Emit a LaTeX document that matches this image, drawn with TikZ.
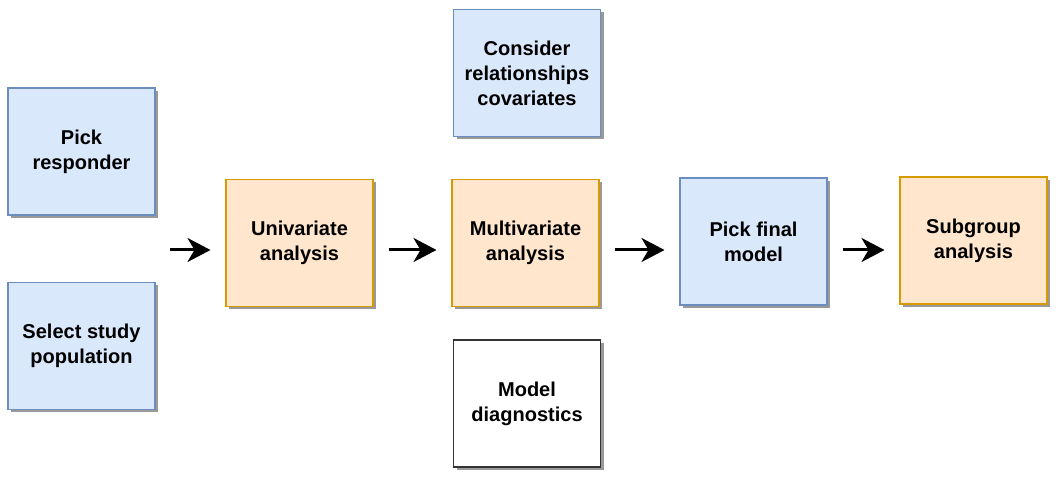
\documentclass[tikz,border=0pt]{standalone}
\usepackage{fontspec}
\setmainfont{Liberation Sans}
\usetikzlibrary{arrows.meta,shadows}
\definecolor{bfill}{HTML}{DAE8FC}
\definecolor{bline}{HTML}{6C8EBF}
\definecolor{ofill}{HTML}{FFE6CC}
\definecolor{oline}{HTML}{D79B00}

\begin{document}
\begin{tikzpicture}[
    box/.style={draw, line width=0.6pt, minimum width=2.94cm,
        minimum height=2.54cm, align=center,
        font=\fontsize{11.4}{14.2}\selectfont\bfseries,
        drop shadow={shadow xshift=0.06cm, shadow yshift=-0.06cm,
            fill=black!40, opacity=1}},
    B/.style={box, fill=bfill, draw=bline},
    O/.style={box, fill=ofill, draw=oline},
    W/.style={box, fill=white, draw=black!80},
    A/.style={-{Stealth[length=0.46cm, width=0.48cm, inset=0.14cm]},
        line width=0.06cm, shorten <=0.3cm, shorten >=0.3cm}]
    \useasboundingbox (0,0) rectangle (21.2,9.56);
    \node[B] (resp) at (1.63,6.53) {Pick\\responder};
    \node[B] (pop) at (1.63,2.64) {Select study\\population};
    \node[O] (uni) at (5.99,4.70) {Univariate\\analysis};
    \node[O] (multi) at (10.51,4.70) {Multivariate\\analysis};
    \node[B] (cons) at (10.54,8.10) {Consider\\relationships\\covariates};
    \node[W] (diag) at (10.54,1.49) {Model\\diagnostics};
    \node[B] (final) at (15.07,4.73) {Pick final\\model};
    \node[O] (sub) at (19.47,4.75) {Subgroup\\analysis};
    \coordinate (start) at (3.1,4.56);
    \draw[A] (start) -- (uni.west |- start);
    \draw[A] (uni.east |- start) -- (multi.west |- start);
    \draw[A] (multi.east |- start) -- (final.west |- start);
    \draw[A] (final.east |- start) -- (sub.west |- start);
\end{tikzpicture}
\end{document}
